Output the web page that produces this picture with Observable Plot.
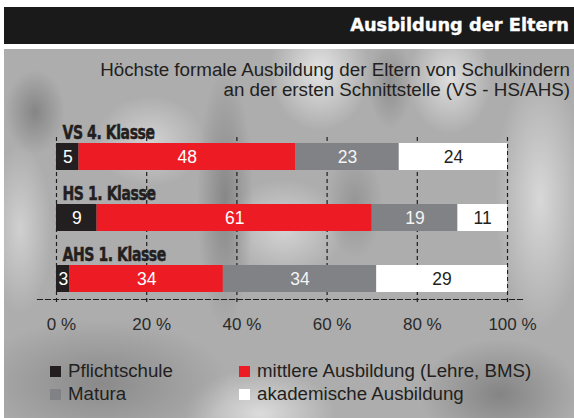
<!DOCTYPE html>
<html>
<head>
<meta charset="utf-8">
<script src="https://cdn.jsdelivr.net/npm/d3@7"></script>
<script src="https://cdn.jsdelivr.net/npm/@observablehq/plot@0.6"></script>
<style>
  html, body { margin: 0; padding: 0; background: #ffffff; }
  #wrap { position: relative; width: 574px; height: 418px; overflow: hidden; background: #ffffff; font-family: "Liberation Sans", Arial, sans-serif; }
  #titlebar { position: absolute; left: 4px; top: 7px; width: 570px; height: 37px; background: #1a1a1a; }
  #title { position: absolute; right: 5px; top: 6px; color: #ffffff; font-family: "DejaVu Sans", sans-serif; font-weight: bold; font-size: 17.8px; line-height: 24px; white-space: nowrap; -webkit-text-stroke: 0.35px #ffffff; }
  #bg { position: absolute; left: 4px; top: 49px; width: 570px; height: 369px;
    background:
      radial-gradient(ellipse 30px 42px at 31px 63px, #858585, rgba(133,133,133,0)),
      radial-gradient(ellipse 28px 130px at 221px 150px, #878787, rgba(135,135,135,0)),
      radial-gradient(ellipse 50px 60px at 316px 22px, #e4e4e4, rgba(228,228,228,0)),
      radial-gradient(ellipse 22px 45px at 386px 35px, #909090, rgba(144,144,144,0)),
      radial-gradient(ellipse 42px 55px at 446px 30px, #dedede, rgba(222,222,222,0)),
      radial-gradient(ellipse 28px 55px at 351px 155px, #959595, rgba(149,149,149,0)),
      radial-gradient(ellipse 45px 130px at 536px 150px, #d8d8d8, rgba(216,216,216,0)),
      radial-gradient(ellipse 130px 65px at 96px 335px, #8a8a8a, rgba(138,138,138,0)),
      radial-gradient(ellipse 75px 45px at 256px 365px, #dcdcdc, rgba(220,220,220,0)),
      radial-gradient(ellipse 80px 55px at 496px 345px, #848484, rgba(132,132,132,0)),
      radial-gradient(ellipse 32px 85px at 16px 180px, #d0d0d0, rgba(208,208,208,0)),
      radial-gradient(ellipse 55px 45px at 146px 92px, #d2d2d2, rgba(210,210,210,0)),
      radial-gradient(ellipse 60px 50px at 280px 180px, #d4d4d4, rgba(212,212,212,0)),
      #adadad;
  }
  #subtitle { position: absolute; right: 4px; top: 60px; text-align: right; color: #231f20; font-size: 18.8px; line-height: 19.5px; white-space: nowrap; }
  #chart { position: absolute; left: 0; top: 0; }
  #legend { position: absolute; left: 0; top: 0; width: 574px; height: 418px; pointer-events: none; }
  .item { position: absolute; font-size: 18.7px; color: #231f20; white-space: nowrap; line-height: 20px; }
  .sw { position: absolute; width: 10.5px; height: 10.5px; }
  .catlabel text { letter-spacing: -0.6px; stroke: #231f20; stroke-width: 0.5px; }
</style>
</head>
<body>
<div id="wrap">
  <div id="titlebar"><div id="title"></div></div>
  <div id="bg"></div>
  <div id="subtitle"></div>
  <div id="chart"></div>
  <div id="legend"></div>
</div>
<script>
// ---- data ----
const titleText = "Ausbildung der Eltern";
const subtitleLines = ["Höchste formale Ausbildung der Eltern von Schulkindern", "an der ersten Schnittstelle (VS - HS/AHS)"];
const categories = ["VS 4. Klasse", "HS 1. Klasse", "AHS 1. Klasse"];
const levels = ["Pflichtschule", "mittlere Ausbildung (Lehre, BMS)", "Matura", "akademische Ausbildung"];
const pflichtschule = [5, 9, 3];
const mittlere = [48, 61, 34];
const matura = [23, 19, 34];
const akademisch = [24, 11, 29];
const tickValues = [0, 20, 40, 60, 80, 100];
const tickLabels = ["0 %", "20 %", "40 %", "60 %", "80 %", "100 %"];
const colors = ["#231f20", "#ed1c24", "#808285", "#ffffff"];
const textColors = ["#ffffff", "#ffffff", "#f4f4f4", "#231f20"];

// ---- build table (stacked) ----
const series = [pflichtschule, mittlere, matura, akademisch];
const table = [];
categories.forEach((cat, i) => {
  let acc = 0;
  levels.forEach((level, j) => {
    const v = series[j][i];
    table.push({cat, level, li: j, value: v, x1: acc, x2: acc + v});
    acc += v;
  });
});

document.getElementById("title").textContent = titleText;
document.getElementById("subtitle").innerHTML = subtitleLines.join("<br>");

const W = 574, H = 418;
const chart = Plot.plot({
  width: W,
  height: H,
  marginLeft: 56,
  marginRight: 67,
  marginTop: 137,
  marginBottom: 119,
  style: {background: "transparent", fontFamily: "'Liberation Sans', Arial, sans-serif", overflow: "visible"},
  x: {domain: [0, 100], axis: null},
  y: {domain: categories, range: [142, 293], paddingInner: 0.5645, paddingOuter: 0, axis: null},
  color: {domain: levels, range: colors},
  marks: [
    Plot.ruleX(tickValues, {stroke: "#1e1e1e", strokeWidth: 1.2, strokeDasharray: "4,3", insetBottom: -5}),
    Plot.frame({anchor: "bottom", stroke: "#1e1e1e", strokeWidth: 1.2, strokeDasharray: "5,3", insetLeft: -19, insetRight: -16}),
    Plot.barX(table, {x1: "x1", x2: "x2", y: "cat", fill: "level"}),
    Plot.text(table, {filter: d => d.li < 2, x: d => (d.x1 + d.x2) / 2, y: "cat", text: d => String(d.value), fill: textColors[0], fontSize: 17.5}),
    Plot.text(table, {filter: d => d.li === 2, x: d => (d.x1 + d.x2) / 2, y: "cat", text: d => String(d.value), fill: textColors[2], fontSize: 17.5}),
    Plot.text(table, {filter: d => d.li === 3, x: d => (d.x1 + d.x2) / 2, y: "cat", text: d => String(d.value), fill: textColors[3], fontSize: 17.5}),
    Plot.text(categories, {className: "catlabel", y: d => d, text: d => d, frameAnchor: "left", textAnchor: "start", dx: 6, dy: -24, fontSize: 19, fontWeight: "bold", fontFamily: "'DejaVu Sans', sans-serif", fill: "#231f20"}),
    Plot.axisX({ticks: tickValues, tickFormat: d => tickLabels[tickValues.indexOf(d)], tickSize: 0, tickPadding: 18, fontSize: 17, fill: "#2a2a2a", dx: 5, label: null})
  ]
});
document.getElementById("chart").appendChild(chart);

// condense the category labels (narrow heavy headline style)
d3.select(chart).selectAll(".catlabel text").each(function() {
  const len = this.getComputedTextLength();
  if (len > 0) {
    this.setAttribute("textLength", (len * 0.74).toFixed(1));
    this.setAttribute("lengthAdjust", "spacingAndGlyphs");
  }
});

// ---- legend ----
const legend = document.getElementById("legend");
const legendPos = [[50, 361], [239, 361], [50, 384], [239, 384]];
levels.forEach((level, j) => {
  const [lx, ly] = legendPos[j];
  const sw = document.createElement("div");
  sw.className = "sw";
  sw.style.left = lx + "px";
  sw.style.top = (ly + 5) + "px";
  sw.style.background = colors[j];
  legend.appendChild(sw);
  const it = document.createElement("div");
  it.className = "item";
  it.style.left = (lx + 18) + "px";
  it.style.top = ly + "px";
  it.textContent = level;
  legend.appendChild(it);
});
</script>
</body>
</html>
